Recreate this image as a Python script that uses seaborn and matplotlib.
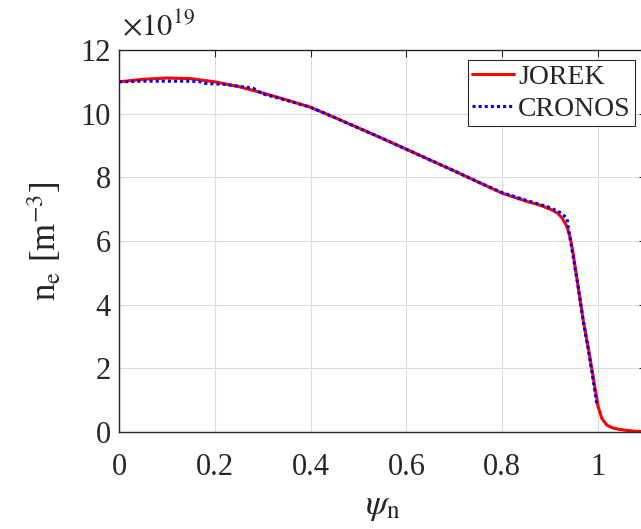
import matplotlib
matplotlib.use("Agg")
import matplotlib.pyplot as plt
import seaborn as sns
import pandas as pd

# JOREK profile (n_e in units of 1e19 m^-3)
jorek_psi = [0.0, 0.05, 0.1, 0.15, 0.2, 0.25, 0.3, 0.35, 0.4, 0.45, 0.5, 0.55, 0.6,
             0.65, 0.7, 0.75, 0.8, 0.85, 0.88, 0.9, 0.915, 0.925, 0.935, 0.942, 0.948,
             0.958, 0.969, 0.98, 0.99, 1.0, 1.008, 1.018, 1.03, 1.045, 1.06, 1.08, 1.1]
jorek_ne = [11.0, 11.08, 11.12, 11.1, 11.0, 10.85, 10.65, 10.43, 10.2, 9.88, 9.55, 9.22, 8.88,
            8.54, 8.2, 7.85, 7.5, 7.25, 7.12, 7.0, 6.88, 6.72, 6.45, 6.1, 5.6,
            4.6, 3.5, 2.6, 1.7, 0.8, 0.42, 0.22, 0.13, 0.08, 0.05, 0.02, 0.01]

# CRONOS profile
cronos_psi = [0.0, 0.05, 0.1, 0.15, 0.17, 0.18, 0.22, 0.26, 0.28, 0.3, 0.35, 0.4, 0.45, 0.5,
              0.55, 0.6, 0.65, 0.7, 0.75, 0.8, 0.85, 0.9, 0.92, 0.935, 0.94, 0.948,
              0.958, 0.969, 0.98, 0.99, 0.998]
cronos_ne = [11.0, 11.02, 11.02, 11.02, 11.0, 10.95, 10.92, 10.84, 10.8, 10.62, 10.42, 10.2, 9.88, 9.55,
             9.22, 8.88, 8.54, 8.2, 7.85, 7.52, 7.28, 7.05, 6.9, 6.72, 6.2, 5.5,
             4.6, 3.5, 2.55, 1.6, 0.8]

x_ticks = [0, 0.2, 0.4, 0.6, 0.8, 1]
y_ticks = [0, 2, 4, 6, 8, 10, 12]

sns.set_style("whitegrid")
plt.rcParams['font.family'] = ['Liberation Serif', 'DejaVu Serif']
plt.rcParams['mathtext.fontset'] = 'stix'

W, H = 641, 529
fig = plt.figure(figsize=(W / 100, H / 100), dpi=100)
ax = fig.add_axes([119 / W, 1 - 432 / H, 527 / W, 382 / H])

df_j = pd.DataFrame({"psi": jorek_psi, "ne": jorek_ne})
df_c = pd.DataFrame({"psi": cronos_psi, "ne": cronos_ne})

sns.lineplot(data=df_j, x="psi", y="ne", color="#ff0000", lw=2.2, ax=ax,
             label="JOREK", sort=False)
sns.lineplot(data=df_c, x="psi", y="ne", color="#0000ff", lw=2.2, linestyle=(0, (1, 1)),
             ax=ax, label="CRONOS", sort=False)

ax.set_xlim(0, 1.1)
ax.set_ylim(0, 12)
ax.set_xticks(x_ticks)
ax.set_xticklabels([f"{t:g}" for t in x_ticks])
ax.set_yticks(y_ticks)
ax.set_yticklabels([str(t) for t in y_ticks])
ax.tick_params(axis='both', which='both', direction='in', top=True, right=True,
               labelsize=22, length=5, width=0.8, colors='#262626')
ax.tick_params(axis='x', pad=15)
ax.tick_params(axis='y', pad=6)
ax.grid(True, color='#dcdcdc', linewidth=0.8)
for s in ax.spines.values():
    s.set_visible(True)
    s.set_color('#262626')
    s.set_linewidth(1.0)

ax.set_ylabel(r"n$_\mathrm{e}$ [m$^{-3}$]", fontsize=25, labelpad=12, color='#262626')
ax.set_xlabel(r"$\psi_{\mathrm{n}}$", fontsize=26, labelpad=6, color='#262626')
ax.xaxis.set_label_coords(383 / W, 1 - 514 / H, transform=fig.transFigure)
ax.xaxis.label.set_verticalalignment('baseline')

ax.text(0.005, 1.02, r"$\times10^{19}$", transform=ax.transAxes, fontsize=22,
        ha='left', va='bottom', color='#262626')

leg = ax.legend(loc='upper right', bbox_to_anchor=(635 / W, 1 - 60 / H),
                bbox_transform=fig.transFigure, fontsize=20, frameon=True,
                fancybox=False, edgecolor='#262626', framealpha=1,
                handlelength=1.5, handletextpad=0.15, borderpad=0.15,
                labelspacing=0.25, borderaxespad=0)
leg.get_frame().set_linewidth(0.8)

fig.savefig("out.png", dpi=100)
